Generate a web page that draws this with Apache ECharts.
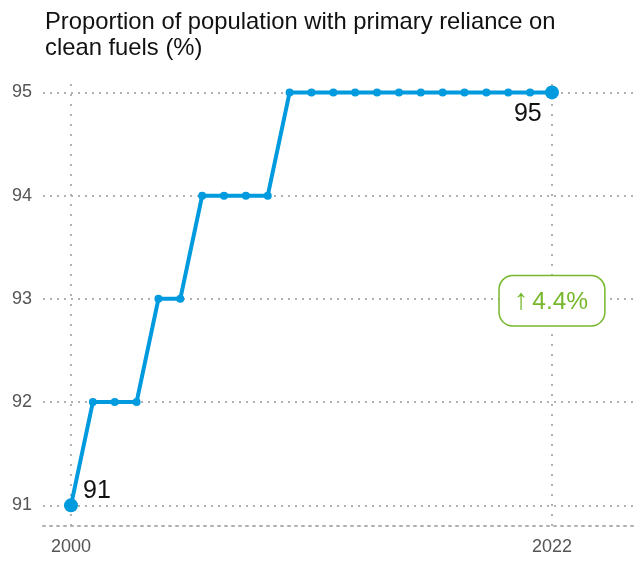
<!DOCTYPE html>
<html>
<head>
<meta charset="utf-8">
<script src="https://cdn.jsdelivr.net/npm/echarts@6/dist/echarts.min.js"></script>
<style>
  html, body { margin: 0; padding: 0; background: #fff; }
  #chart { width: 642px; height: 563px; }
</style>
</head>
<body>
<div id="chart"></div>
<script>
// data
const years = [2000, 2001, 2002, 2003, 2004, 2005, 2006, 2007, 2008, 2009, 2010,
  2011, 2012, 2013, 2014, 2015, 2016, 2017, 2018, 2019, 2020, 2021, 2022];
const values = [91, 92, 92, 92, 93, 93, 94, 94, 94, 94, 95,
  95, 95, 95, 95, 95, 95, 95, 95, 95, 95, 95, 95];
const yTicks = [91, 92, 93, 94, 95];
const xTicks = [2000, 2022];
const changeArrow = "↑";
const changeText = "4.4%";

const font = "Liberation Sans, Arial, sans-serif";
const blue = "#009ade";
const green = "#76b82a";
const gridColor = "#b0b0b0";

const lastIdx = years.length - 1;
const seriesData = years.map(function (y, i) {
  const p = { value: [y, values[i]] };
  if (i === 0 || i === lastIdx) {
    p.symbolSize = 14;
    p.label = {
      show: true,
      formatter: String(values[i]),
      fontSize: 25,
      color: "#111",
      fontFamily: font,
      position: i === 0 ? [19, -20] : [-31, 16]
    };
  }
  return p;
});

const chart = echarts.init(document.getElementById("chart"));
chart.setOption({
  animation: false,
  title: {
    text: "Proportion of population with primary reliance on\nclean fuels (%)",
    left: 40,
    top: 5,
    textStyle: {
      fontFamily: font,
      fontWeight: "normal",
      fontSize: 23.8,
      lineHeight: 25.5,
      color: "#111"
    }
  },
  grid: {
    left: 43,
    right: 5,
    top: 80,
    bottom: 37,
    containLabel: false
  },
  xAxis: {
    type: "value",
    min: 1998.72,
    max: 2025.89,
    axisLine: {
      show: true,
      lineStyle: { color: gridColor, type: [2, 5], width: 2 }
    },
    axisTick: { show: false },
    splitLine: { show: false },
    axisLabel: {
      customValues: xTicks,
      formatter: function (v) { return String(v); },
      fontSize: 18,
      color: "#555",
      fontFamily: font,
      margin: 12
    }
  },
  yAxis: {
    type: "value",
    min: 90.8,
    max: 95.12,
    axisLine: { show: false },
    axisTick: { show: false, customValues: yTicks },
    axisLabel: {
      customValues: yTicks,
      fontSize: 18,
      color: "#555",
      fontFamily: font,
      margin: 11
    },
    splitLine: {
      show: true,
      lineStyle: { color: gridColor, type: [2, 5], width: 2 }
    }
  },
  series: [
    {
      // vertical reference lines at first and last year
      type: "line",
      data: [],
      z: 1,
      markLine: {
        silent: true,
        z: 1,
        symbol: "none",
        label: { show: false },
        lineStyle: { color: gridColor, type: [2, 8], width: 2 },
        data: xTicks.map(function (x) { return { xAxis: x }; })
      }
    },
    {
      type: "line",
      data: seriesData,
      symbol: "circle",
      symbolSize: 8,
      lineStyle: { color: blue, width: 4 },
      itemStyle: { color: blue, borderWidth: 0 },
      markPoint: {
        silent: true,
        symbol: "circle",
        symbolSize: 0,
        data: [{ coord: [xTicks[1], 93] }],
        label: {
          show: true,
          position: "inside",
          offset: [0, 2],
          formatter: "{a|" + changeArrow + "}{b|" + changeText + "}",
          color: green,
          fontFamily: font,
          backgroundColor: "#fff",
          borderColor: green,
          borderWidth: 1.5,
          borderRadius: 13,
          padding: [10, 16, 8, 14],
          rich: {
            a: { fontSize: 29, color: green, fontFamily: font, padding: [0, 4, 2, 0] },
            b: { fontSize: 24.5, color: green, fontFamily: font }
          }
        }
      },
      z: 3
    }
  ]
});
</script>
</body>
</html>
